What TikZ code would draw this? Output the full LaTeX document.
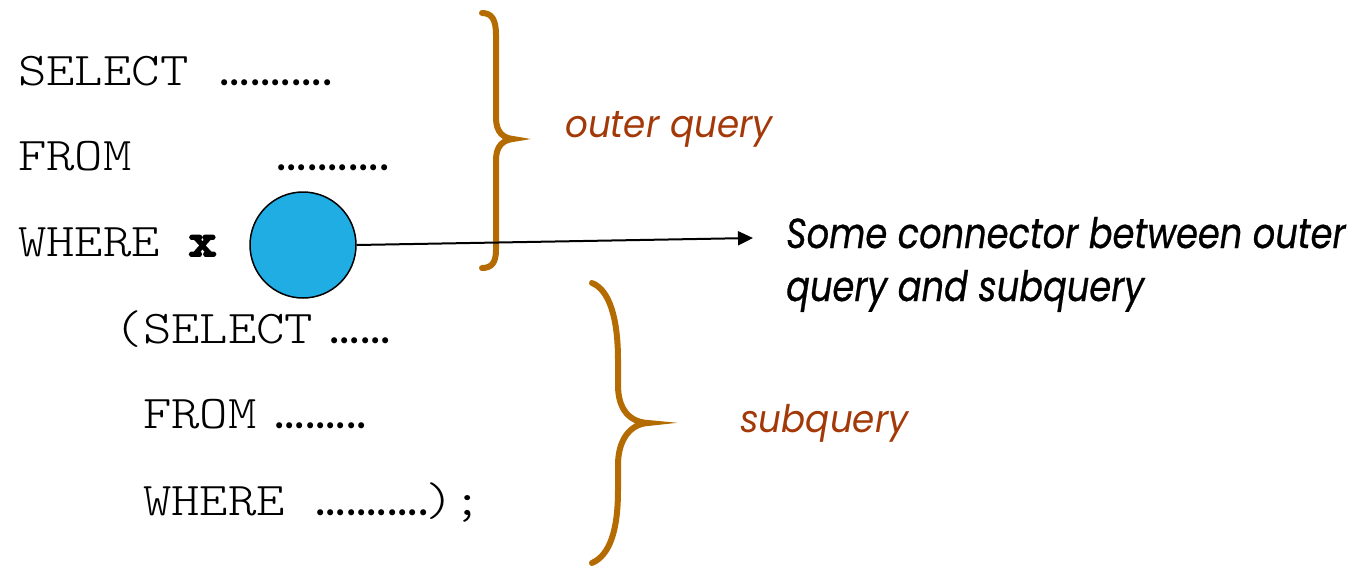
\documentclass[tikz,border=0pt]{standalone}
\usepackage{fontspec}
\usetikzlibrary{arrows.meta}
\newfontfamily\codefont{lmmonolt10-regular.otf}[FakeStretch=1.15,BoldFont=lmmonolt10-bold.otf,BoldFeatures={FakeBold=4}]
\newfontfamily\labfont{Poppins}[FakeStretch=0.94]
\newfontfamily\notefont{Poppins}[FakeStretch=0.838,FakeBold=0.6]
\newfontfamily\dotfont{Poppins}
\definecolor{bracecol}{RGB}{180,108,2}
\definecolor{labcol}{RGB}{163,57,8}
\definecolor{ballcol}{RGB}{31,173,227}
\tikzset{
  code/.style={inner sep=0pt, anchor=base west, font=\codefont\fontsize{47}{50}\selectfont},
  dots/.style={inner sep=0pt, anchor=base west, font=\dotfont\fontsize{49}{50}\selectfont},
  lab/.style={inner sep=0pt, anchor=base west, text=labcol, font=\labfont\itshape\fontsize{38}{40}\selectfont},
  note/.style={inner sep=0pt, anchor=base west, align=left, font=\notefont\itshape\fontsize{42}{53}\selectfont},
  bracestyle/.style={draw=bracecol, line width=6pt, line cap=round},
}
\begin{document}
\begin{tikzpicture}[x=1pt,y=-1pt]
\useasboundingbox (0,0) rectangle (1355,568);
% outer query code
\node[code] (sel) at (18,85) {SELECT};
\node[dots] (seld) at (219,85) {...........};
\node[code] (frm) at (18,170) {FROM};
\node[dots] (frmd) at (276,170) {...........};
\node[code] (whr) at (18,256) {WHERE \textbf{x}};
% subquery code
\node[code] (ssel) at (114.5,343) {(SELECT};
\node[dots] (sseld) at (329,343) {......};
\node[code] (sfrm) at (143,428) {FROM};
\node[dots] (sfrmd) at (274,428) {.........};
\node[code] (swhr) at (143,515) {WHERE};
\node[dots] (swhrd) at (315,515) {...........};
\node[code] (sclose) at (425,515) {);};
% braces
\draw[bracestyle] (482,13) .. controls (492,13) and (496,20) .. (496,35)
  -- (496,118) .. controls (496,132) and (503,138) .. (513,139)
  .. controls (503,140) and (496,146) .. (496,160)
  -- (496,250) .. controls (496,262) and (492,268) .. (482,268);
\draw[bracestyle] (592,283) .. controls (610,290) and (618,320) .. (618,360)
  -- (618,385) .. controls (618,410) and (630,422) .. (648,423)
  .. controls (630,424) and (618,440) .. (618,465)
  -- (618,490) .. controls (618,530) and (610,555) .. (592,563);
% labels
\node[lab] (outer) at (565,137) {outer query};
\node[lab] (subq) at (740,432) {subquery};
\node[note] (conn) at (786,301) {Some connector between outer\\query and subquery};
% ball and arrow
\node[circle, draw=black, line width=1.5pt, fill=ballcol, minimum size=106pt, inner sep=0pt] (ball) at (303,245) {};
\coordinate (tip) at (753,238);
\draw[line width=2pt, -{Triangle[length=15pt,width=14pt]}] (ball.east) -- (tip);
\end{tikzpicture}
\end{document}
